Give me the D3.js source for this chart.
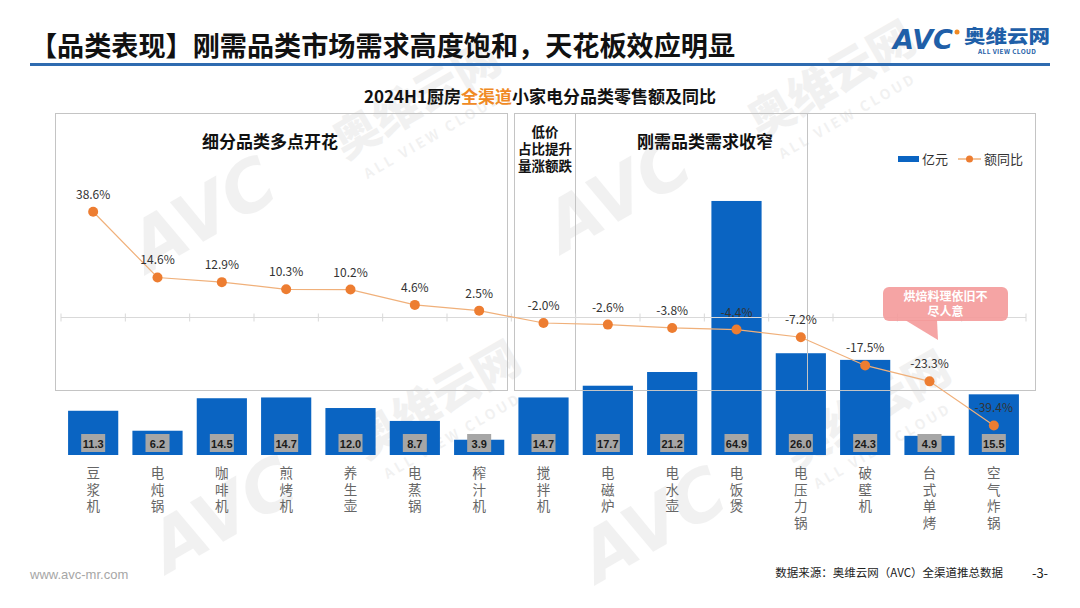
<!DOCTYPE html>
<html><head><meta charset="utf-8">
<script src="https://cdn.jsdelivr.net/npm/d3@7"></script>
<style>
html,body{margin:0;padding:0;background:#fff;}
svg{display:block;font-family:"Noto Sans CJK SC","Noto Sans",sans-serif;}
</style></head>
<body>
<svg id="c" width="1080" height="608"></svg>
<script>
const categories = ["豆浆机","电炖锅","咖啡机","煎烤机","养生壶","电蒸锅","榨汁机","搅拌机","电磁炉","电水壶","电饭煲","电压力锅","破壁机","台式单烤","空气炸锅"];
const sales = [11.3, 6.2, 14.5, 14.7, 12.0, 8.7, 3.9, 14.7, 17.7, 21.2, 64.9, 26.0, 24.3, 4.9, 15.5];
const yoy = [38.6, 14.6, 12.9, 10.3, 10.2, 4.6, 2.5, -2.0, -2.6, -3.8, -4.4, -7.2, -17.5, -23.3, -39.4];
const seriesNames = ["亿元", "额同比"];
const groupTitles = ["细分品类多点开花", "低价|占比提升|量涨额跌", "刚需品类需求收窄"];

const svg = d3.select("#c");
const BLUE = "#0a64c2", ORANGE = "#ed7d31";

// faint watermarks
const wm = [[215,235],[630,215],[235,535],[665,545]];
wm.forEach(([x,y])=>{
  const g = svg.append("g").attr("transform",`translate(${x},${y}) rotate(-30)`).attr("opacity",0.05);
  g.append("text").attr("text-anchor","middle").attr("font-size",70).attr("font-weight",900).attr("font-style","italic").attr("font-family","DejaVu Sans").attr("fill","#000").text("AVC");
  g.append("text").attr("x",150).attr("text-anchor","start").attr("font-size",46).attr("font-weight",900).attr("fill","#000").text("奥维云网");
  g.append("text").attr("x",160).attr("y",28).attr("font-size",14).attr("font-weight",700).attr("letter-spacing",3).attr("fill","#000").text("ALL VIEW CLOUD");
});

// header
svg.append("text").attr("x",30).attr("y",56).attr("font-size",27).attr("font-weight",700).attr("fill","#111")
  .attr("textLength",705).attr("lengthAdjust","spacingAndGlyphs")
  .text("【品类表现】刚需品类市场需求高度饱和，天花板效应明显");
svg.append("line").attr("x1",30).attr("x2",1050).attr("y1",64.5).attr("y2",64.5).attr("stroke","#2e6bb0").attr("stroke-width",3);
// logo
svg.append("text").attr("x",893).attr("y",49).attr("font-size",26).attr("font-weight",900).attr("font-family","DejaVu Sans")
  .attr("font-style","italic").attr("fill","#1f5fa8").attr("textLength",60).attr("lengthAdjust","spacingAndGlyphs").text("AVC");
svg.append("circle").attr("cx",957).attr("cy",32).attr("r",2.5).attr("fill","#f08a24");
svg.append("text").attr("x",964).attr("y",43).attr("font-size",18).attr("font-weight",900).attr("fill","#1f5fa8")
  .attr("textLength",86).attr("lengthAdjust","spacingAndGlyphs").text("奥维云网");
svg.append("text").attr("x",978).attr("y",54).attr("font-size",6.5).attr("font-weight",700).attr("fill","#1f5fa8")
  .attr("textLength",58).text("ALL VIEW CLOUD");

// chart title
const t = svg.append("text").attr("x",540).attr("y",103).attr("text-anchor","middle").attr("font-size",17).attr("font-weight",700).attr("fill","#111");
t.append("tspan").text("2024H1厨房");
t.append("tspan").attr("fill","#f08a24").text("全渠道");
t.append("tspan").text("小家电分品类零售额及同比");

// scales
const x = d3.scaleBand().domain(categories).range([61,1026]).paddingInner(0.22).paddingOuter(0.11);
const yBar = d3.scaleLinear().domain([0,70]).range([455,181]);
const yLine = d3.scaleLinear().domain([-50,50]).range([454.5,180.5]);
const step = x.step();
const edge = i => x.range()[0] + i*step;

// bars
svg.append("g").selectAll("rect").data(sales).join("rect")
  .attr("x",(d,i)=>x(categories[i])).attr("width",x.bandwidth())
  .attr("y",d=>yBar(d)).attr("height",d=>yBar(0)-yBar(d)).attr("fill",BLUE);

// group boxes
const boxG = svg.append("g").attr("fill","none").attr("stroke","#c4c4c4").attr("stroke-width",1);
boxG.append("rect").attr("x",55.5).attr("y",113.5).attr("width",452).attr("height",277);
boxG.append("rect").attr("x",514.5).attr("y",113.5).attr("width",293).attr("height",277);
boxG.append("line").attr("x1",575.5).attr("x2",575.5).attr("y1",113.5).attr("y2",390.5);
boxG.append("rect").attr("x",807.5).attr("y",113.5).attr("width",228).attr("height",277);

// group titles
svg.append("text").attr("x",270).attr("y",148).attr("text-anchor","middle").attr("font-size",17).attr("font-weight",700).attr("fill","#111").text(groupTitles[0]);
svg.append("text").attr("x",705).attr("y",148).attr("text-anchor","middle").attr("font-size",17).attr("font-weight",700).attr("fill","#111").text(groupTitles[2]);
groupTitles[1].split("|").forEach((s,i)=>{
  svg.append("text").attr("x",545).attr("y",137+i*17).attr("text-anchor","middle").attr("font-size",13.5).attr("font-weight",700).attr("fill","#111").text(s);
});

// zero axis for line
const ax = svg.append("g").attr("stroke","#d9d9d9").attr("stroke-width",1);
ax.append("line").attr("x1",edge(0)).attr("x2",edge(categories.length)).attr("y1",yLine(0)).attr("y2",yLine(0));
d3.range(categories.length+1).forEach(i=>{
  ax.append("line").attr("x1",edge(i)).attr("x2",edge(i)).attr("y1",yLine(0)-4).attr("y2",yLine(0)+4);
});

// bar value labels
const lab = svg.append("g");
sales.forEach((v,i)=>{
  const cx = x(categories[i]) + x.bandwidth()/2;
  lab.append("rect").attr("x",cx-12).attr("y",434).attr("width",24).attr("height",18).attr("fill","#a6a6a6");
  lab.append("text").attr("x",cx).attr("y",447.5).attr("text-anchor","middle").attr("font-size",11).attr("font-weight",700)
    .attr("font-family","Liberation Sans").attr("fill","#1a1a1a").text(v.toFixed(1));
});

// line
const line = d3.line().x((d,i)=>x(categories[i])+x.bandwidth()/2).y(d=>yLine(d));
svg.append("path").datum(yoy).attr("d",line).attr("fill","none").attr("stroke","#f0b07a").attr("stroke-width",1.2);
svg.append("g").selectAll("circle").data(yoy).join("circle")
  .attr("cx",(d,i)=>x(categories[i])+x.bandwidth()/2).attr("cy",d=>yLine(d)).attr("r",5).attr("fill",ORANGE);
svg.append("g").selectAll("text").data(yoy).join("text")
  .attr("x",(d,i)=>x(categories[i])+x.bandwidth()/2).attr("y",d=>yLine(d)-13)
  .attr("text-anchor","middle").attr("font-size",12).attr("fill","#333").text(d=>d.toFixed(1)+"%");

// x labels (vertical, one character per line)
categories.forEach((c,i)=>{
  const cx = x(c)+x.bandwidth()/2;
  Array.from(c).forEach((ch,j)=>{
    svg.append("text").attr("x",cx).attr("y",478+j*16.5).attr("text-anchor","middle").attr("font-size",13.5).attr("fill","#666").text(ch);
  });
});

// legend
svg.append("rect").attr("x",898).attr("y",156).attr("width",21).attr("height",6).attr("fill",BLUE);
svg.append("text").attr("x",922).attr("y",164).attr("font-size",13).attr("fill","#333").text(seriesNames[0]);
svg.append("line").attr("x1",958).attr("x2",981).attr("y1",159).attr("y2",159).attr("stroke","#f0b07a").attr("stroke-width",1.5);
svg.append("circle").attr("cx",969.5).attr("cy",159).attr("r",3.5).attr("fill",ORANGE);
svg.append("text").attr("x",984).attr("y",164).attr("font-size",13).attr("fill","#333").text(seriesNames[1]);

// callout
const cg = svg.append("g");
cg.append("path").attr("d","M905,320 L938,340 L937,320 Z").attr("fill","#f49a9a").attr("opacity",0.9);
cg.append("rect").attr("x",883).attr("y",287).attr("width",125).attr("height",34).attr("rx",6).attr("fill","#f49a9a").attr("opacity",0.9);
cg.append("text").attr("x",945.5).attr("y",301).attr("text-anchor","middle").attr("font-size",12).attr("font-weight",700).attr("fill","#fff").text("烘焙料理依旧不");
cg.append("text").attr("x",945.5).attr("y",316).attr("text-anchor","middle").attr("font-size",12).attr("font-weight",700).attr("fill","#fff").text("尽人意");

// footer
svg.append("text").attr("x",30).attr("y",579).attr("font-size",13).attr("fill","#a6a6a6").attr("font-family","Liberation Sans").text("www.avc-mr.com");
svg.append("text").attr("x",1003).attr("y",577).attr("text-anchor","end").attr("font-size",11.5).attr("fill","#222").text("数据来源：奥维云网（AVC）全渠道推总数据");
svg.append("text").attr("x",1040).attr("y",578).attr("text-anchor","middle").attr("font-size",13).attr("fill","#222").text("-3-");
</script>
</body></html>
